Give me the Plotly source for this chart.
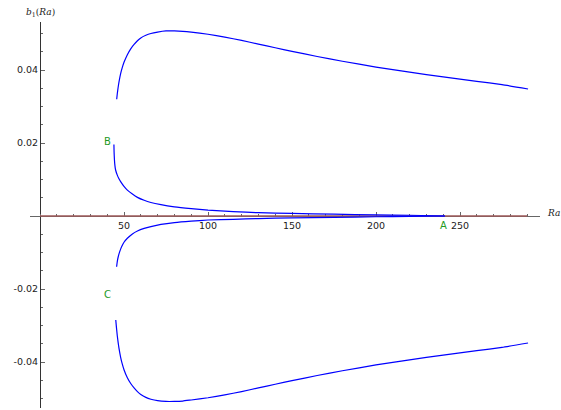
import plotly.graph_objects as go

# Upper branch b1(Ra) > 0
upper_ra = [45.65, 46.0, 46.5, 47.0, 48, 49, 50, 52, 54, 56, 58, 60, 63, 66, 70, 75, 80, 85,
            90, 100, 110, 120, 130, 140, 150, 165, 180, 200, 220, 240, 260, 275, 290.5]
upper_b = [0.0320, 0.0335, 0.0352, 0.0367, 0.0390, 0.0407, 0.0421, 0.0442, 0.0458, 0.0470,
           0.0480, 0.0488, 0.0495, 0.0500, 0.0504, 0.0507, 0.0507, 0.0506, 0.0504, 0.0498,
           0.0490, 0.0481, 0.0471, 0.0461, 0.0451, 0.0437, 0.0424, 0.0408, 0.0394, 0.0381,
           0.0369, 0.0360, 0.0348]

# Lower branch b1(Ra) < 0
lower_ra = [45.1, 45.5, 46.0, 46.5, 47.0, 48, 49, 50, 52, 54, 56, 58, 60, 63, 66, 70, 75, 80,
            85, 90, 100, 110, 120, 130, 140, 150, 165, 180, 200, 220, 240, 260, 275, 290.5]
lower_b = [-0.0285, -0.0305, -0.0328, -0.0346, -0.0362, -0.0387, -0.0406, -0.0421, -0.0443,
           -0.0459, -0.0471, -0.0481, -0.0489, -0.0497, -0.0502, -0.0506, -0.0508, -0.0508,
           -0.0507, -0.0504, -0.0498, -0.0490, -0.0481, -0.0471, -0.0461, -0.0451, -0.0437,
           -0.0424, -0.0408, -0.0394, -0.0381, -0.0369, -0.0360, -0.0348]

# Branch from B down to A
branch_b_ra = [44.0, 44.1, 44.3, 44.6, 45, 46, 47, 48, 50, 52, 55, 58, 62, 66, 72, 80, 90,
               100, 115, 130, 150, 175, 200, 220, 241]
branch_b_val = [0.0196, 0.0175, 0.0155, 0.0138, 0.0126, 0.0112, 0.0102, 0.0094, 0.0081,
                0.0071, 0.0060, 0.0051, 0.0043, 0.0037, 0.0031, 0.0025, 0.0020, 0.0016,
                0.0012, 0.0009, 0.0007, 0.0005, 0.0003, 0.0002, 0.0]

# Branch from C up to A
branch_c_ra = [45.6, 46.0, 46.6, 47.5, 48.5, 50, 52, 55, 58, 62, 66, 72, 80, 90, 100, 115,
               130, 150, 175, 200, 220, 241]
branch_c_val = [-0.0139, -0.0125, -0.0111, -0.0097, -0.0085, -0.0072, -0.0061, -0.0049,
                -0.0041, -0.0034, -0.0029, -0.0023, -0.0018, -0.0014, -0.0011, -0.0009,
                -0.0007, -0.0005, -0.0004, -0.0002, -0.0001, 0.0]

# Trivial solution b1 = 0
zero_ra = [0, 290]
zero_b = [0, 0]

# Point labels
label_text = ["B", "C", "A"]
label_ra = [40, 40, 240]
label_b = [0.0205, -0.0215, -0.0026]

x_ticks = [50, 100, 150, 200, 250]
y_ticks = [-0.04, -0.02, 0.02, 0.04]
y_tick_text = ["-0.04", "-0.02", "0.02", "0.04"]

x_range = [-5.952, 297.62]
y_range = [-0.0526, 0.05315]

blue = "#0000ff"
fig = go.Figure()
fig.add_trace(go.Scatter(x=zero_ra, y=zero_b, mode="lines",
                         line=dict(color="#9e5a5a", width=1.4)))
for xs, ys in [(upper_ra, upper_b), (lower_ra, lower_b),
               (branch_b_ra, branch_b_val), (branch_c_ra, branch_c_val)]:
    fig.add_trace(go.Scatter(x=xs, y=ys, mode="lines",
                             line=dict(color=blue, width=1.2, shape="spline", smoothing=0.4)))

x_axis_pos = (0 - y_range[0]) / (y_range[1] - y_range[0])
y_axis_pos = (0 - x_range[0]) / (x_range[1] - x_range[0])

annotations = [
    dict(text="<i>b</i><sub>1</sub>(<i>Ra</i>)", xref="x", x=0, yref="paper", y=1,
         xanchor="center", yanchor="bottom", yshift=2, showarrow=False,
         font=dict(family="DejaVu Serif", size=9, color="#222222")),
    dict(text="<i>Ra</i>", xref="paper", x=1, xanchor="left", xshift=5,
         yref="y", y=0, yanchor="middle", yshift=3, showarrow=False,
         font=dict(family="DejaVu Serif", size=9, color="#222222")),
]
for t, xv, yv in zip(label_text, label_ra, label_b):
    annotations.append(dict(text=t, x=xv, y=yv, xref="x", yref="y", showarrow=False,
                            xanchor="center", yanchor="middle",
                            font=dict(family="DejaVu Sans", size=10, color="#1f9a1f")))

tick_font = dict(family="DejaVu Sans", size=9.5, color="#222222")
fig.update_layout(
    width=561, height=410,
    margin=dict(l=30, r=21, t=22, b=2),
    paper_bgcolor="white", plot_bgcolor="white",
    showlegend=False,
    xaxis=dict(range=x_range, anchor="free", position=x_axis_pos, layer="below traces",
               showgrid=False, zeroline=False, showline=True, linecolor="#666666",
               linewidth=1, ticks="inside", ticklen=4, tickcolor="#666666",
               tickvals=x_ticks, tickfont=tick_font, ticklabelstandoff=1,
               minor=dict(dtick=10, tick0=0, ticks="inside", ticklen=2, tickcolor="#666666")),
    yaxis=dict(range=y_range, anchor="free", position=y_axis_pos, layer="below traces",
               showgrid=False, zeroline=False, showline=True, linecolor="#333333",
               linewidth=1, ticks="inside", ticklen=4, tickcolor="#666666",
               tickvals=y_ticks, ticktext=y_tick_text, tickfont=tick_font,
               minor=dict(dtick=0.005, tick0=0, ticks="inside", ticklen=2, tickcolor="#666666")),
    annotations=annotations,
)

fig.write_html("out.html")
